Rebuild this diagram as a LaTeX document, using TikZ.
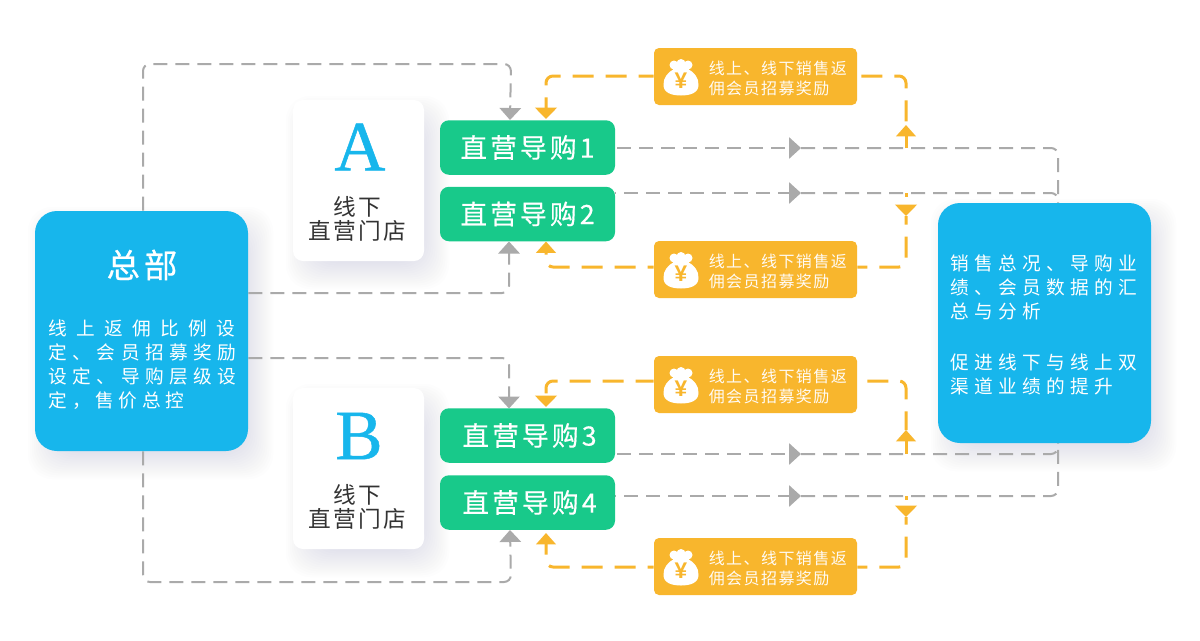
\documentclass[tikz,border=0pt]{standalone}
\usepackage{fontspec}
\setmainfont{Noto Sans CJK SC}
\newfontfamily\latinserif{Liberation Serif}
\newfontfamily\yenfont{Liberation Sans}
\usetikzlibrary{arrows.meta,positioning}
\pgfdeclarelayer{bg}
\pgfsetlayers{bg,main}
\definecolor{skyb}{HTML}{17B6EC}
\definecolor{gr}{HTML}{18C98A}
\definecolor{yel}{HTML}{F8B62D}
\definecolor{cgray}{HTML}{AAAAAA}
\definecolor{shad}{HTML}{8090B8}
\definecolor{txt}{HTML}{333333}
\newcommand\px{0.75pt}
\newcommand\lsp[2]{{\addfontfeature{LetterSpace=#1}#2}}
\newcommand\softshadow[4]{% x1 y1 x2 y2
  \foreach \i in {0,2,...,32}{
    \fill[shad,opacity=0.017,rounded corners=24*\px] (#1+9-16+\i,#2+12-16+\i) rectangle (#3+9+16-\i,#4+12+16-\i);
  }}
\tikzset{
  x=0.75pt,y=-0.75pt,
  bluebox/.style={fill=skyb,rounded corners=22*\px,minimum width=213*\px,minimum height=240*\px,inner sep=0pt},
  card/.style={fill=white,rounded corners=10*\px,minimum width=131*\px,minimum height=161*\px,inner sep=0pt},
  greenbox/.style={fill=gr,rounded corners=9*\px,minimum width=175*\px,minimum height=54.5*\px,inner sep=0pt,text=white,
     font=\fontsize{20pt}{24pt}\selectfont\addfontfeature{LetterSpace=12,FakeBold=0.4}},
  yellowbox/.style={fill=yel,rounded corners=5*\px,minimum width=203*\px,minimum height=57*\px,inner sep=0pt},
  ytext/.style={anchor=west,inner sep=0pt,align=left,text=white!95!yel,
     font=\fontsize{12pt}{15pt}\selectfont\addfontfeature{LetterSpace=9}},
  bigletter/.style={inner sep=0pt,text=skyb,font=\latinserif\fontsize{53pt}{53pt}\selectfont\addfontfeature{FakeBold=0.7}},
  cardtext/.style={inner sep=0pt,text=txt,align=center,font=\fontsize{17pt}{18pt}\selectfont\addfontfeature{LetterSpace=10}},
  bodytext/.style={anchor=north west,inner sep=0pt,align=left,text=white,font=\fontsize{14pt}{18pt}\selectfont},
  gline/.style={draw=cgray,line width=2*\px,dash pattern=on 14*\px off 8*\px,rounded corners=7*\px},
  yline/.style={draw=yel,line width=3*\px,dash pattern=on 21*\px off 12*\px,rounded corners=7*\px},
  ysolid/.style={draw=yel,line width=3*\px},
  ystub/.style={draw=yel,line width=3*\px,dash pattern=on 4*\px off 100*\px},
  ph/.style={dash phase=#1*\px},
  gtip/.style={-{Triangle[length=9pt,width=16pt]}},
  ydown/.style={-{Triangle[length=8.5pt,width=16pt]}},
  yup/.style={-{Triangle[length=8.5pt,width=14.5pt]}},
  bag/.pic={
    \fill[white] (-7,-9) .. controls (-13,-6) and (-18,0) .. (-17.5,7) .. controls (-17.5,15) and (-9,17.5) .. (0,17.5)
       .. controls (9,17.5) and (17.5,15) .. (17.5,7) .. controls (18,0) and (13,-6) .. (7,-9) -- cycle;
    \fill[white] (-7,-13) circle[radius=4.5];
    \fill[white] (0,-14.5) circle[radius=4.5];
    \fill[white] (7,-13) circle[radius=4.5];
    \fill[white] (-8,-12) rectangle (8,-8);
    \node[inner sep=0pt,text=yel,font=\yenfont\bfseries\fontsize{17pt}{17pt}\selectfont] (-yen) at (0,3) {¥};
  },
}
\begin{document}
\begin{tikzpicture}
\useasboundingbox (0,0) rectangle (1200,640);

% main boxes
\node[bluebox] (hq) at (141.5,331) {};
\node[bluebox] (rep) at (1044.5,323) {};
\node[card] (cardA) at (358.5,180.5) {};
\node[card] (cardB) at (358.5,468.5) {};
\node[greenbox] (g1) at (527.5,147.5) {\raisebox{-1.2pt}{直营导购1}};
\node[greenbox] (g2) at (527.5,214) {\raisebox{-1.2pt}{直营导购2}};
\node[greenbox] (g3) at (527.5,435.5) {\hspace{3pt}\raisebox{-1.2pt}{直营导购3}};
\node[greenbox] (g4) at (527.5,502.5) {\hspace{3pt}\raisebox{-1.2pt}{直营导购4}};
\node[yellowbox] (y1) at (755.5,76.5) {};
\node[yellowbox] (y2) at (755.5,269.5) {};
\node[yellowbox] (y3) at (755.5,384.5) {};
\node[yellowbox] (y4) at (755.5,566.5) {};

% texts
\node[inner sep=0pt,text=white,font=\fontsize{25pt}{30pt}\selectfont\addfontfeature{LetterSpace=12,FakeBold=0.6}] (hqtitle) at (142,265) {总部};
\node[bodytext] (hqbody) at (48.5,320) {\lsp{50}{线上返佣比例设}\\\lsp{29}{定、会员招募奖励}\\\lsp{29}{设定、导购层级设}\\\lsp{25}{定，售价总控}};
\node[bodytext] (reptext) at (950,255) {\lsp{29}{销售总况、导购业}\\\lsp{29}{绩、会员数据的汇}\\\lsp{29}{总与分析}\\[20pt]\lsp{29}{促进线下与线上双}\\\lsp{29}{渠道业绩的提升}};
\node[bigletter] (lA) at (360,147) {A};
\node[bigletter] (lB) at (359,436) {B};
\node[cardtext] (tA1) at (357.5,207) {线下};
\node[cardtext] (tA2) at (357.5,231) {直营门店};
\node[cardtext] (tB1) at (357.5,495) {线下};
\node[cardtext] (tB2) at (357.5,519) {直营门店};
\foreach \n/\yy in {1/78,2/271,3/386,4/568}{
  \pic (bag\n) at (681,\yy) {bag};
  \node[ytext] (yt\n) at (708.5,\yy) {线上、线下销售返\\佣会员招募奖励};
}

% connector way-points
\coordinate (a1) at (143,64);   \coordinate (a2) at (511,64);    \coordinate (a3) at (510,120);
\coordinate (b1) at (509,293);  \coordinate (b3) at (509,241.5);
\coordinate (c1) at (509,358);  \coordinate (c3) at (509,408.5);
\coordinate (d1) at (143,582);  \coordinate (d2) at (511,582);   \coordinate (d3) at (510,530);
\coordinate (m1) at (801,148);  \coordinate (m2) at (801,193);   \coordinate (m3) at (801,454);  \coordinate (m4) at (801,496);
\coordinate (e1) at (1058,148); \coordinate (e2) at (1058,193);  \coordinate (e3) at (1058,454); \coordinate (e4) at (1058,496);
\coordinate (p1) at (906,148);  \coordinate (p2) at (906,193);   \coordinate (p3) at (906,454);  \coordinate (p4) at (906,496);
\coordinate (q1) at (906,125);  \coordinate (q2) at (906,216);   \coordinate (q3) at (906,430);  \coordinate (q4) at (906,517);
\coordinate (r1) at (906,76);   \coordinate (r2) at (906,267);   \coordinate (r3) at (906,381);  \coordinate (r4) at (906,567);
\coordinate (s1) at (546,76);   \coordinate (s2) at (546,267);   \coordinate (s3) at (546,381);  \coordinate (s4) at (546,567);
\coordinate (t1) at (546,119);  \coordinate (t2) at (546,241.5); \coordinate (t3) at (546,407);  \coordinate (t4) at (546,533);

\begin{pgfonlayer}{bg}
\fill[white] (0,0) rectangle (1200,640);
\softshadow{35}{211}{248}{451}
\softshadow{938}{203}{1151}{443}
\softshadow{293}{100}{424}{261}
\softshadow{293}{388}{424}{549}

% gray: head office to sales staff
\draw[gline,gtip] (hq.north -| a1) -- (a1) -- (a2) -- (a3);
\draw[gline,gtip] (hq.east |- b1) -- (b1) -- (b3);
\draw[gline,gtip] (hq.east |- c1) -- (c1) -- (c3);
\draw[gline,gtip] (hq.south -| d1) -- (d1) -- (d2) -- (d3);
% gray: sales staff to report
\foreach \n/\ps in {1/20,2/13,3/20,4/13}{
  \draw[gline,ph=\ps,gtip] (g\n.east |- m\n) -- (m\n);
}
\draw[gline] (m1) -- (e1) -- (rep.north -| e1);
\draw[gline] (m2) -- (e2) -- (rep.north -| e2);
\draw[gline] (m3) -- (e3) -- (rep.south -| e3);
\draw[gline] (m4) -- (e4) -- (rep.south -| e4);
% orange rebate loops
\draw[ysolid,yup] (p1) -- (q1);
\draw[yline,ph=29] (y1.east |- r1) -- (r1) -- (q1);
\draw[yline,ph=6,ydown] (y1.west |- s1) -- (s1) -- (t1);
\draw[ystub,ydown] (p2) -- (q2);
\draw[yline,ph=11] (y2.east |- r2) -- (r2) -- (q2);
\draw[yline,ph=15,yup] (y2.west |- s2) -- (s2) -- (t2);
\draw[ysolid,yup] (p3) -- (q3);
\draw[yline,ph=23] (y3.east |- r3) -- (r3) -- (q3);
\draw[yline,ph=3,ydown] (y3.west |- s3) -- (s3) -- (t3);
\draw[ystub,ydown] (p4) -- (q4);
\draw[yline,ph=11] (y4.east |- r4) -- (r4) -- (q4);
\draw[yline,ph=15,yup] (y4.west |- s4) -- (s4) -- (t4);
\end{pgfonlayer}
\end{tikzpicture}
\end{document}
